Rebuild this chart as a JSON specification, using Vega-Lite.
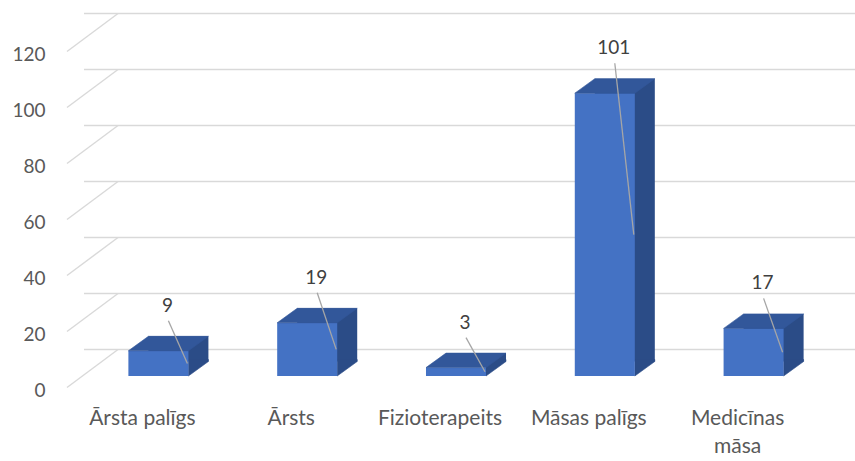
{
  "$schema": "https://vega.github.io/schema/vega-lite/v6.json",
  "width": 744,
  "height": 336,
  "autosize": "none",
  "padding": {"left": 84, "top": 40, "right": 27, "bottom": 85},
  "background": "white",
  "config": {"view": {"stroke": null}, "font": "Lato"},
  "datasets": {
    "jobs": [
      {"amats": "Ārsta palīgs", "skaits": 9},
      {"amats": "Ārsts", "skaits": 19},
      {"amats": "Fizioterapeits", "skaits": 3},
      {"amats": "Māsas palīgs", "skaits": 101},
      {"amats": "Medicīnas māsa", "skaits": 17}
    ],
    "grid": [
      {"tick": 0}, {"tick": 20}, {"tick": 40}, {"tick": 60},
      {"tick": 80}, {"tick": 100}, {"tick": 120}
    ]
  },
  "resolve": {"scale": {"y": "independent"}},
  "layer": [
    {
      "layer": [
        {
          "data": {"name": "grid"},
          "mark": {"type": "rule", "color": "#D9D9D9", "strokeWidth": 1.4, "xOffset": 34, "x2Offset": 27, "yOffset": -26.5},
          "encoding": {
            "y": {
              "field": "tick", "type": "quantitative",
              "scale": {"domain": [0, 120], "nice": false},
              "axis": {
                "title": null, "grid": false, "domain": false, "ticks": false,
                "values": [0, 20, 40, 60, 80, 100, 120],
                "labelPadding": 39, "labelOffset": 14.5,
                "labelFontSize": 19, "labelColor": "#595959", "labelFont": "Lato"
              }
            }
          }
        },
        {
          "data": {"name": "grid"},
          "mark": {"type": "rule", "color": "#D9D9D9", "strokeWidth": 1.4, "xOffset": -17, "x2Offset": 34, "yOffset": 11.5, "y2Offset": -26.5},
          "encoding": {
            "x": {"value": 0},
            "x2": {"value": 0},
            "y": {"field": "tick", "type": "quantitative"},
            "y2": {"field": "tick"}
          }
        },
        {
          "data": {"name": "jobs"},
          "mark": {"type": "bar", "color": "#2B4C87", "xOffset": 20, "x2Offset": 20, "yOffset": -14.5, "y2Offset": -14.5},
          "encoding": {
            "x": {"field": "amats", "type": "nominal", "sort": null},
            "y": {"field": "skaits", "type": "quantitative"}
          }
        },
        {
          "data": {"name": "jobs"},
          "mark": {"type": "point", "shape": "M 0.6 0 L 1 -0.29 L 1 -0.33 L 0.6 -0.33 Z", "size": 10000, "filled": true, "color": "#2B4C87", "opacity": 1, "stroke": "#2B4C87", "strokeWidth": 0.6},
          "encoding": {
            "x": {"field": "amats", "type": "nominal", "sort": null},
            "y": {"datum": 0, "type": "quantitative"}
          }
        },
        {
          "data": {"name": "jobs"},
          "mark": {"type": "bar", "color": "#4472C4"},
          "encoding": {
            "x": {
              "field": "amats", "type": "nominal", "sort": null,
              "scale": {"paddingInner": 0.5966, "paddingOuter": 0.2983},
              "axis": {
                "title": null, "labelAngle": 0, "labelAlign": "center", "domain": false, "ticks": false,
                "labelPadding": 42, "labelOffset": -16,
                "labelFontSize": 21, "labelColor": "#595959", "labelFont": "Lato",
                "labelExpr": "datum.label == 'Medicīnas māsa' ? ['Medicīnas', 'māsa'] : datum.label",
                "labelLineHeight": 28
              }
            },
            "y": {"field": "skaits", "type": "quantitative"}
          }
        },
        {
          "data": {"name": "jobs"},
          "mark": {"type": "point", "shape": "M -0.6 0 L 0.6 0 L 1 -0.29 L -0.2 -0.29 Z", "size": 10000, "filled": true, "color": "#32579A", "opacity": 1, "stroke": "#32579A", "strokeWidth": 0.6},
          "encoding": {
            "x": {"field": "amats", "type": "nominal", "sort": null},
            "y": {"field": "skaits", "type": "quantitative"}
          }
        },
        {
          "data": {"name": "jobs"},
          "mark": {"type": "text", "dx": 9, "dy": -45, "fontSize": 19, "color": "#404040", "baseline": "middle", "font": "Lato"},
          "encoding": {
            "x": {"field": "amats", "type": "nominal", "sort": null},
            "y": {"field": "skaits", "type": "quantitative"},
            "text": {"field": "skaits", "type": "quantitative"}
          }
        }
      ]
    },
    {
      "data": {"name": "jobs"},
      "transform": [
        {"fold": ["skaits", "skaits"], "as": ["k", "v"]},
        {"stack": "v", "groupby": ["amats"], "as": ["lo", "hi"]},
        {"filter": {"field": "lo", "gt": 0}}
      ],
      "mark": {"type": "rule", "color": "#A6A6A6", "strokeWidth": 1.3, "xOffset": 29, "x2Offset": 10, "y2Offset": -30},
      "encoding": {
        "x": {"field": "amats", "type": "nominal", "sort": null},
        "x2": {"field": "amats"},
        "y": {"field": "lo", "type": "quantitative", "scale": {"domain": [0, 240], "nice": false}, "axis": null},
        "y2": {"field": "hi"}
      }
    }
  ]
}
